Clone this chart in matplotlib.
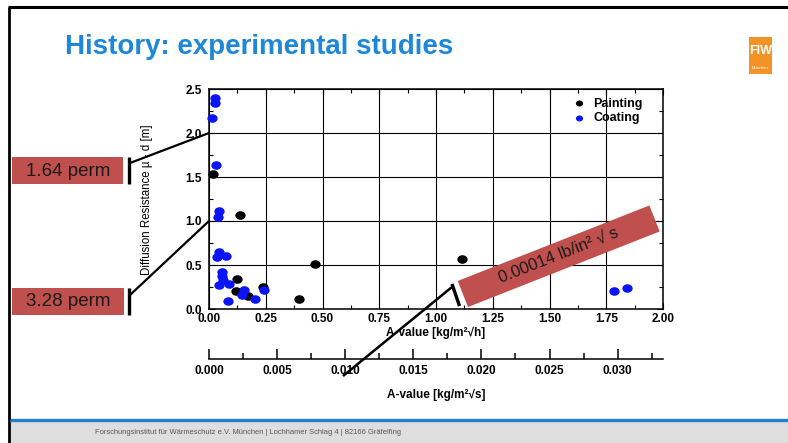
import numpy as np
import matplotlib
matplotlib.use('Agg')
import matplotlib.pyplot as plt
from matplotlib.patches import Rectangle, Polygon
from matplotlib.lines import Line2D
from matplotlib.path import Path
from matplotlib.transforms import Affine2D
from matplotlib.ticker import MultipleLocator, FormatStrFormatter

plt.rcParams['font.family'] = ['Liberation Sans', 'DejaVu Sans']

# data
painting_x = [0.019, 0.137, 0.467, 0.125, 0.117, 0.170, 0.239, 0.396, 1.113]
painting_y = [1.53, 1.07, 0.51, 0.34, 0.20, 0.15, 0.25, 0.11, 0.57]
coating_x = [0.026, 0.026, 0.015, 0.030, 0.044, 0.038, 0.044, 0.034, 0.074, 0.056,
             0.056, 0.063, 0.044, 0.088, 0.156, 0.147, 0.082, 0.203, 0.244, 1.786, 1.843]
coating_y = [2.40, 2.34, 2.17, 1.64, 1.11, 1.04, 0.65, 0.59, 0.60, 0.42,
             0.37, 0.33, 0.27, 0.28, 0.22, 0.16, 0.09, 0.11, 0.22, 0.20, 0.235]
x_ticks = np.arange(0, 2.01, 0.25)
y_ticks = np.arange(0, 2.51, 0.5)
s_ticks = np.arange(0, 0.0301, 0.005)

W, H = 788, 443
TITLE_BLUE = '#1f87d8'
RED = '#c0504d'


def fx(px):
    return px / W


def fy(py):
    return 1 - py / H


def fline(fig, pts, lw, color='k'):
    xs = [fx(p[0]) for p in pts]
    ys = [fy(p[1]) for p in pts]
    fig.add_artist(Line2D(xs, ys, transform=fig.transFigure, color=color, lw=lw,
                          solid_capstyle='butt'))


def frect(fig, x0, y0, x1, y1, color, z=0):
    fig.add_artist(Rectangle((fx(x0), fy(y1)), fx(x1) - fx(x0), fy(y0) - fy(y1),
                             transform=fig.transFigure, facecolor=color,
                             edgecolor='none', zorder=z))


fig = plt.figure(figsize=(W / 100, H / 100), dpi=100)
fig.patch.set_facecolor('white')

# slide frame, footer
fline(fig, [(8, 7), (W, 7)], 2.2)
fline(fig, [(9, 7), (9, H)], 2.0)
frect(fig, 10, 421, W, H, '#dedede')
fline(fig, [(10, 419.5), (W, 419.5)], 2.4, color='#1f7fd0')
fig.text(fx(95), fy(432), u'Forschungsinstitut f\u00fcr W\u00e4rmeschutz e.V. M\u00fcnchen | '
         u'Lochhamer Schlag 4 | 82166 Gr\u00e4felfing',
         fontsize=5.4, color='#555555', ha='left', va='center')

# title + logo
fig.text(fx(65), fy(47), 'History: experimental studies', fontsize=20,
         fontweight='bold', color=TITLE_BLUE, ha='left', va='center')
frect(fig, 749, 37, 772, 74, '#f39325')
fig.text(fx(760.5), fy(51), 'FIW', fontsize=9, color='white', fontweight='bold',
         ha='center', va='center')
fig.text(fx(760.5), fy(68), u'M\u00fcnchen', fontsize=3, color='white',
         ha='center', va='center')

# main chart
ax = fig.add_axes([fx(209), fy(309), fx(663) - fx(209), fy(89) - fy(309)])
ell = Path.unit_circle().transformed(Affine2D().scale(1.2, 1.0))
ax.scatter(painting_x, painting_y, s=55, marker=ell, color='black', lw=0,
           clip_on=False, zorder=3, label='Painting')
ax.scatter(coating_x, coating_y, s=55, marker=ell, color='#0a14f5', lw=0,
           clip_on=False, zorder=3, label='Coating')
ax.set_xlim(0, 2)
ax.set_ylim(0, 2.5)
ax.set_xticks(x_ticks)
ax.set_yticks(y_ticks)
ax.xaxis.set_minor_locator(MultipleLocator(0.125))
ax.yaxis.set_minor_locator(MultipleLocator(0.25))
ax.xaxis.set_major_formatter(FormatStrFormatter('%.2f'))
ax.yaxis.set_major_formatter(FormatStrFormatter('%.1f'))
ax.grid(True, which='major', color='black', lw=0.8)
ax.set_axisbelow(True)
ax.tick_params(which='both', direction='in', top=True, right=True, width=0.8,
               labelsize=8.5, colors='black')
ax.tick_params(which='major', length=4)
ax.tick_params(which='minor', length=3)
ax.tick_params(axis='y', pad=5)
ax.tick_params(axis='x', pad=3)
for lab in ax.get_xticklabels() + ax.get_yticklabels():
    lab.set_fontweight('bold')
for sp in ax.spines.values():
    sp.set_linewidth(1.1)
ax.set_xlabel(u'A-value [kg/m\u00b2\u221ah]', fontsize=8.5, fontweight='bold', labelpad=1)
fig.text(fx(147), fy(200), u'Diffusion Resistance \u00b5 - d [m]', fontsize=8.3,
         rotation=90, ha='center', va='center')
leg = ax.legend(loc='upper right', frameon=False, fontsize=9, handletextpad=0.2,
                labelspacing=0.2, borderaxespad=0.3, bbox_to_anchor=(0.975, 1.0),
                markerscale=0.7)
for t in leg.get_texts():
    t.set_fontweight('bold')

# second scale in kg/m2 sqrt(s)
ax2 = fig.add_axes([fx(209), fy(359), fx(663) - fx(209), 0.02])
ax2.set_xlim(0, 2 / 60)
ax2.set_xticks(s_ticks)
ax2.xaxis.set_minor_locator(MultipleLocator(0.0025))
ax2.xaxis.set_major_formatter(FormatStrFormatter('%.3f'))
ax2.set_yticks([])
ax2.patch.set_visible(False)
for k in ['top', 'left', 'right']:
    ax2.spines[k].set_visible(False)
ax2.spines['bottom'].set_linewidth(1.1)
ax2.tick_params(which='both', direction='in', width=1.1, labelsize=8.5, pad=4)
ax2.tick_params(which='major', length=7)
ax2.tick_params(which='minor', length=4)
for lab in ax2.get_xticklabels():
    lab.set_fontweight('bold')
ax2.set_xlabel(u'A-value [kg/m\u00b2\u221as]', fontsize=8.5, fontweight='bold', labelpad=9)

# unit conversion callouts (perm)
frect(fig, 12, 157, 123, 184, RED, z=5)
frect(fig, 12, 288, 124, 315, RED, z=5)
fig.text(fx(68), fy(171), '1.64 perm', fontsize=13.5, color='#1a1a1a',
         ha='center', va='center', zorder=6)
fig.text(fx(68), fy(302), '3.28 perm', fontsize=13.5, color='#1a1a1a',
         ha='center', va='center', zorder=6)
fline(fig, [(129, 157), (129, 184)], 2.4)
fline(fig, [(129, 288), (129, 315)], 2.4)
fline(fig, [(130, 163), (209, 133)], 1.6)
fline(fig, [(130, 295), (209, 221)], 1.6)

# rotated callout (lb/in2 sqrt s)
ang = np.deg2rad(21.5)
L, h = 206, 28
bl = np.array([468.0, 307.0])
u = np.array([np.cos(ang), -np.sin(ang)])
v = np.array([-np.sin(ang), -np.cos(ang)])
corners = [bl, bl + L * u, bl + L * u + h * v, bl + h * v]
fig.add_artist(Polygon([(fx(c[0]), fy(c[1])) for c in corners], closed=True,
                       transform=fig.transFigure, facecolor=RED, edgecolor='none',
                       zorder=5))
cen = bl + 0.5 * L * u + 0.55 * h * v
fig.text(fx(cen[0]), fy(cen[1]), u'0.00014 lb/in\u00b2 \u221a s', fontsize=12,
         color='#1a1a1a', rotation=21.5, rotation_mode='anchor',
         ha='center', va='center', zorder=6)
fline(fig, [(452, 284), (459.5, 306)], 2.4)
fline(fig, [(343, 376), (452, 287)], 1.8)

fig.savefig('out.png', dpi=100)
